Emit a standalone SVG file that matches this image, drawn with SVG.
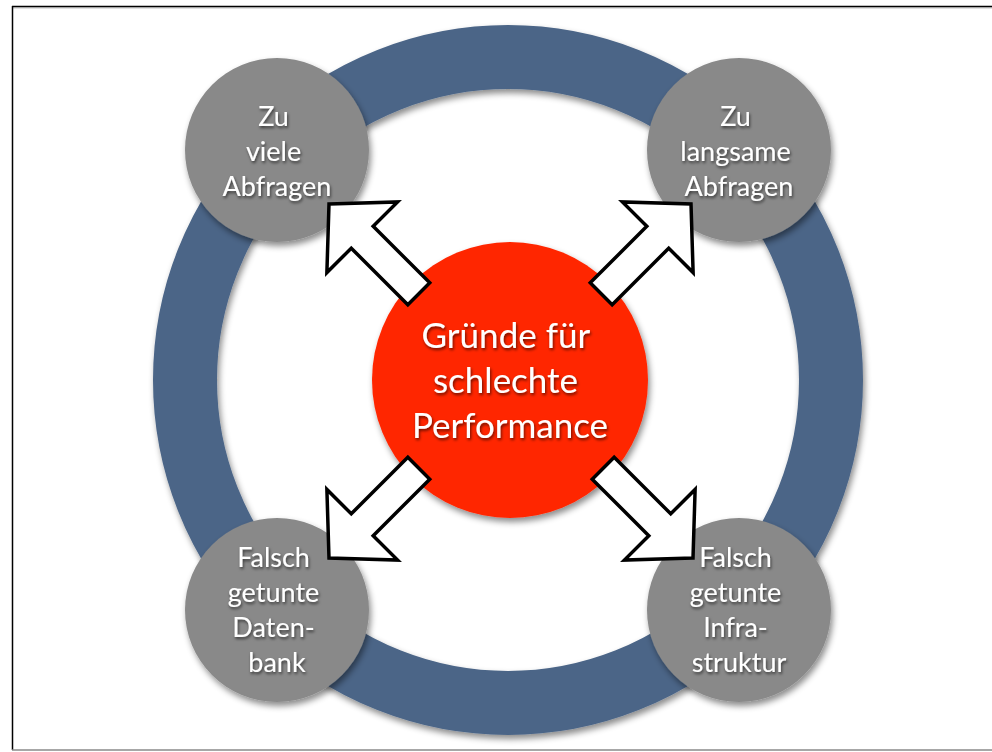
<svg xmlns="http://www.w3.org/2000/svg" width="992" height="752" viewBox="0 0 992 752">
  <defs>
    <filter id="shadow" x="-20%" y="-20%" width="140%" height="140%">
      <feDropShadow dx="2" dy="4" stdDeviation="3" flood-color="#000" flood-opacity="0.45"/>
    </filter>
    <filter id="textShadow" x="-20%" y="-30%" width="140%" height="160%">
      <feDropShadow dx="1" dy="2" stdDeviation="1.6" flood-color="#000" flood-opacity="0.6"/>
    </filter>
    <!-- block arrow pointing along +x with its tip at the origin -->
    <polygon id="blockArrow" points="0,0 -47,50 -47,15.5 -127,15.5 -127,-15.5 -47,-15.5 -47,-50"/>
  </defs>
  <style>
    .ring { fill: none; stroke: #4b6587; stroke-width: 64; }
    .node { fill: #898989; }
    .core { fill: #ff2600; }
    .arrow { fill: #ffffff; stroke: #000000; stroke-width: 3.5; stroke-linejoin: miter; }
    .label { font-family: "Lato", "Open Sans", "DejaVu Sans", sans-serif; fill: #ffffff; text-anchor: middle; }
    .small { font-size: 27px; }
    .big { font-size: 35px; }
  </style>

  <rect x="0" y="0" width="992" height="752" fill="#ffffff"/>

  <!-- slide frame -->
  <g id="frame">
    <line x1="12" y1="6.5" x2="992" y2="6.5" stroke="#000" stroke-width="1.5"/>
    <line x1="12" y1="7.8" x2="992" y2="7.8" stroke="#9a9a9a" stroke-width="1"/>
    <line x1="12.5" y1="6" x2="12.5" y2="750" stroke="#000" stroke-width="1.5"/>
    <line x1="12" y1="750" x2="992" y2="750" stroke="#8a8a8a" stroke-width="1.5"/>
  </g>

  <!-- surrounding ring -->
  <g id="ring">
    <circle class="ring" cx="508" cy="380" r="323" filter="url(#shadow)"/>
  </g>

  <g id="node-viele">
    <circle class="node" cx="277" cy="150" r="92" filter="url(#shadow)"/>
    <text class="label small" filter="url(#textShadow)">
      <tspan x="277" y="126">Zu</tspan>
      <tspan x="277" y="161">viele</tspan>
      <tspan x="277" y="196">Abfragen</tspan>
    </text>
  </g>

  <g id="node-langsam">
    <circle class="node" cx="739" cy="150" r="92" filter="url(#shadow)"/>
    <text class="label small" filter="url(#textShadow)">
      <tspan x="739" y="126">Zu</tspan>
      <tspan x="739" y="161">langsame</tspan>
      <tspan x="739" y="196">Abfragen</tspan>
    </text>
  </g>

  <g id="node-datenbank">
    <circle class="node" cx="277" cy="610" r="92" filter="url(#shadow)"/>
    <text class="label small" filter="url(#textShadow)">
      <tspan x="277" y="567">Falsch</tspan>
      <tspan x="277" y="602">getunte</tspan>
      <tspan x="277" y="637">Daten-</tspan>
      <tspan x="277" y="672">bank</tspan>
    </text>
  </g>

  <g id="node-infrastruktur">
    <circle class="node" cx="739" cy="610" r="92" filter="url(#shadow)"/>
    <text class="label small" filter="url(#textShadow)">
      <tspan x="739" y="567">Falsch</tspan>
      <tspan x="739" y="602">getunte</tspan>
      <tspan x="739" y="637">Infra-</tspan>
      <tspan x="739" y="672">struktur</tspan>
    </text>
  </g>

  <g id="node-center">
    <circle class="core" cx="510" cy="380" r="138" filter="url(#shadow)"/>
    <text class="label big" filter="url(#textShadow)">
      <tspan x="510" y="348">Gründe für</tspan>
      <tspan x="510" y="393">schlechte</tspan>
      <tspan x="510" y="438">Performance</tspan>
    </text>
  </g>

  <!-- connectors: block arrows from the centre to each cause -->
  <g id="connectors">
    <use href="#blockArrow" class="arrow" transform="translate(329,204) rotate(-135)"/>
    <use href="#blockArrow" class="arrow" transform="translate(691,204) rotate(-45)"/>
    <use href="#blockArrow" class="arrow" transform="translate(329,558) rotate(135)"/>
    <use href="#blockArrow" class="arrow" transform="translate(693,558) rotate(45)"/>
  </g>
</svg>
